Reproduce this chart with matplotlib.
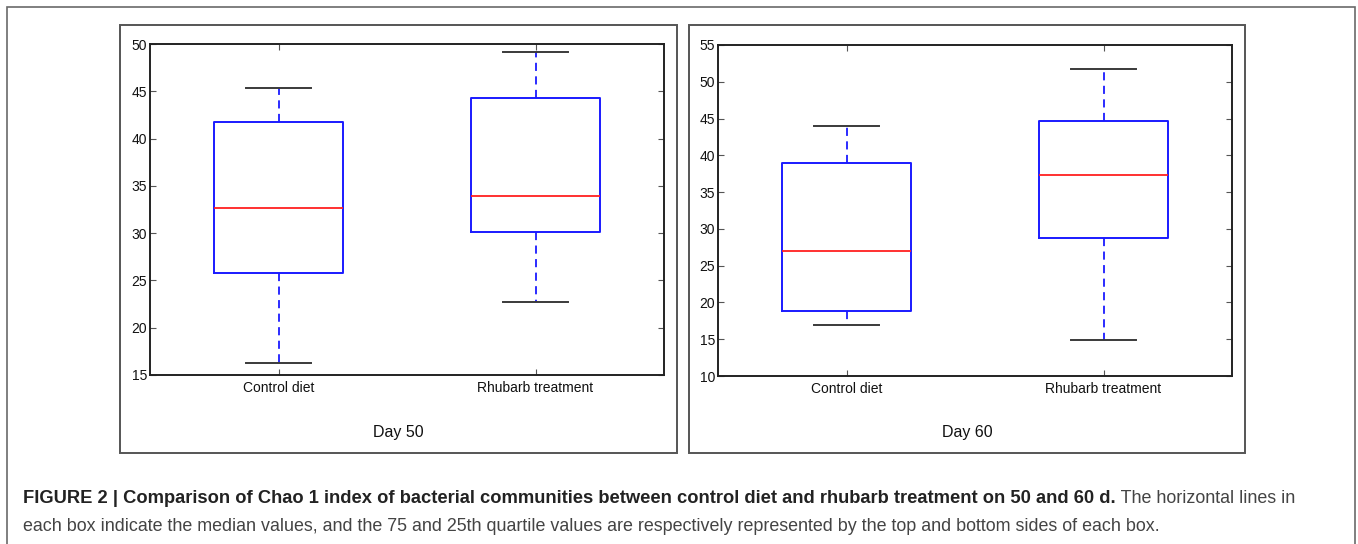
import matplotlib
matplotlib.use("Agg")
import matplotlib.pyplot as plt
from matplotlib.patches import Rectangle

# ---- data (whislo, q1, median, q3, whishi) ----
groups = ["Control diet", "Rhubarb treatment"]
day50_control = [16.3, 25.8, 32.7, 41.8, 45.35]
day50_rhubarb = [22.7, 30.1, 33.95, 44.3, 49.15]
day60_control = [16.9, 18.9, 27.0, 39.0, 43.95]
day60_rhubarb = [14.95, 28.7, 37.3, 44.6, 51.8]
panel_titles = ["Day 50", "Day 60"]
ylims = [(15, 50), (10, 55)]
yticks50 = [15, 20, 25, 30, 35, 40, 45, 50]
yticks60 = [10, 15, 20, 25, 30, 35, 40, 45, 50, 55]

caption_bold = ("FIGURE 2 | Comparison of Chao 1 index of bacterial communities between "
                "control diet and rhubarb treatment on 50 and 60 d.")
caption_reg1 = " The horizontal lines in"
caption_reg2 = ("each box indicate the median values, and the 75 and 25th quartile values are "
                "respectively represented by the top and bottom sides of each box.")

plt.rcParams['font.family'] = ['Liberation Sans', 'DejaVu Sans']

W, H = 1358, 544
fig = plt.figure(figsize=(W / 100, H / 100), dpi=100)


def frac_rect(x0, y0, x1, y1):
    return [x0 / W, 1 - y1 / H, (x1 - x0) / W, (y1 - y0) / H]


# outer border and panel frames
fig.patches.append(Rectangle((7 / W, 1 - 570 / H), (1355 - 7) / W, (570 - 7) / H,
                             transform=fig.transFigure, fill=False, ec="#6a6a6a", lw=1.2))
panel_boxes = [(120, 25, 677, 453), (689, 25, 1245, 453)]
for (x0, y0, x1, y1) in panel_boxes:
    fig.patches.append(Rectangle((x0 / W, 1 - y1 / H), (x1 - x0) / W, (y1 - y0) / H,
                                 transform=fig.transFigure, fill=False, ec="#555555", lw=1.4))

axes_px = [(150, 44, 664, 375), (718, 45, 1232, 376)]
datasets = [(day50_control, day50_rhubarb), (day60_control, day60_rhubarb)]
ytick_sets = [yticks50, yticks60]

for i, ((x0, y0, x1, y1), data) in enumerate(zip(axes_px, datasets)):
    ax = fig.add_axes(frac_rect(x0, y0, x1, y1))
    stats = []
    for name, d in zip(groups, data):
        stats.append(dict(label=name, whislo=d[0], q1=d[1], med=d[2], q3=d[3],
                          whishi=d[4], fliers=[]))
    ax.bxp(stats, positions=[1, 2], widths=0.5, capwidths=0.25, showfliers=False,
           boxprops=dict(color="#1a1aff", lw=1.4),
           whiskerprops=dict(color="#1a1aff", lw=1.3, linestyle=(0, (4.5, 3))),
           capprops=dict(color="#3a3a3a", lw=1.4),
           medianprops=dict(color="#ff2020", lw=1.3))
    ax.set_xlim(0.5, 2.5)
    ax.set_ylim(*ylims[i])
    ax.set_yticks(ytick_sets[i])
    ax.set_xticks([1, 2])
    ax.set_xticklabels(groups)
    ax.tick_params(direction="in", length=4, width=0.8, color="#555555",
                   top=True, right=True, labelsize=10, pad=2, labelcolor="#111111")
    ax.tick_params(axis="x", pad=4)
    for s in ax.spines.values():
        s.set_color("#222222")
        s.set_linewidth(1.4)
    px0, py0, px1, py1 = panel_boxes[i]
    fig.text(((px0 + px1) / 2) / W, 1 - 432 / H, panel_titles[i], ha="center",
             va="center", fontsize=11.5, color="#111111")

# caption
fs_bold = 13.2
fs_reg = 12.9
cy1 = 1 - 503 / H
cy2 = 1 - 531 / H
tb = fig.text(23 / W, cy1, caption_bold, fontsize=fs_bold, fontweight="bold",
              color="#222222", va="baseline")
fig.canvas.draw()
r = fig.canvas.get_renderer()
bb = tb.get_window_extent(r)
fig.text(bb.x1 / W, cy1, caption_reg1, fontsize=fs_reg, color="#444444", va="baseline")
fig.text(23 / W, cy2, caption_reg2, fontsize=fs_reg, color="#444444", va="baseline")

fig.savefig("out.png", dpi=100)
